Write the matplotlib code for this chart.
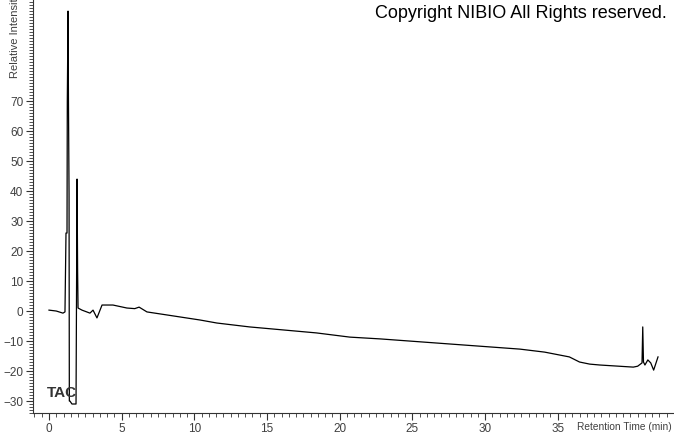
import matplotlib
matplotlib.use("Agg")
import matplotlib.pyplot as plt
from matplotlib.ticker import MultipleLocator

# retention time (min) and relative intensity
rt = [0.0, 0.5, 0.96, 1.1, 1.17, 1.24, 1.26, 1.31, 1.34, 1.38, 1.40, 1.44,
      1.58, 1.86, 1.93, 1.97, 2.0, 2.27, 2.82, 3.03, 3.30, 3.65, 4.4,
      5.36, 5.9, 6.2, 6.74, 8.1, 10.4, 11.55, 13.8, 16.1, 18.4, 20.7, 22.8,
      27.6, 32.4, 34.1, 35.8, 36.5, 37.2, 37.9, 40.2, 40.5, 40.8, 40.85,
      40.9, 41.0, 41.2, 41.4, 41.6, 41.9]
intensity = [0.3, 0.0, -0.7, -0.3, 26, 26, 70, 100, 70, 39, -30, -30,
             -31, -31, 44, 13, 1.0, 0.3, -0.7, 0.3, -2.3, 2.0, 2.0,
             1.0, 0.8, 1.3, -0.3, -1.3, -3.0, -4.0, -5.3, -6.3, -7.3, -8.7, -9.3,
             -11.0, -12.7, -13.7, -15.3, -17.0, -17.7, -18.0, -18.7, -18.4, -17.3, -5.3,
             -17.0, -18.0, -16.3, -17.3, -19.7, -15.3]

x_ticks = [0, 5, 10, 15, 20, 25, 30, 35]
y_ticks = [-30, -20, -10, 0, 10, 20, 30, 40, 50, 60, 70]
label_color = "#404040"

plt.rcParams['font.family'] = ['Liberation Sans', 'DejaVu Sans']

fig = plt.figure(figsize=(6.74, 4.34), dpi=100)
ax = fig.add_axes([33 / 674, 21 / 434, 1 - 33 / 674, 1 - 21 / 434])
ax.plot(rt, intensity, color="black", linewidth=0.9)

ax.set_xlim(-1.1, 43)
ax.set_ylim(-34, 103.7)
ax.set_xticks(x_ticks)
ax.set_yticks(y_ticks)
ax.xaxis.set_minor_locator(MultipleLocator(0.5))
ax.yaxis.set_minor_locator(MultipleLocator(1))
ax.tick_params(which="major", direction="out", length=5, width=0.8,
               labelsize=8.5, labelcolor=label_color, color="#333333", pad=2)
ax.tick_params(which="minor", direction="out", length=3, width=0.6,
               color="#333333")
for side in ["top", "right"]:
    ax.spines[side].set_visible(False)
for side in ["left", "bottom"]:
    ax.spines[side].set_color("#333333")
    ax.spines[side].set_linewidth(0.8)

fig.text(1 - 2 / 674, 1 - 427 / 434, "Retention Time (min)",
         ha="right", va="center", fontsize=7.3, color=label_color)
fig.text(15 / 674, 1 - 78 / 434, "Relative Intensity", rotation=90,
         ha="center", va="bottom", fontsize=8, color=label_color)
ax.text(-0.15, -27.3, "TAC", fontsize=11, fontweight="bold", color="#333333",
        ha="left", va="center")
fig.text(1 - 7 / 674, 1 - 14 / 434, "Copyright NIBIO All Rights reserved.",
         ha="right", va="center", fontsize=13, color="black")

fig.savefig("out.png", dpi=100)
